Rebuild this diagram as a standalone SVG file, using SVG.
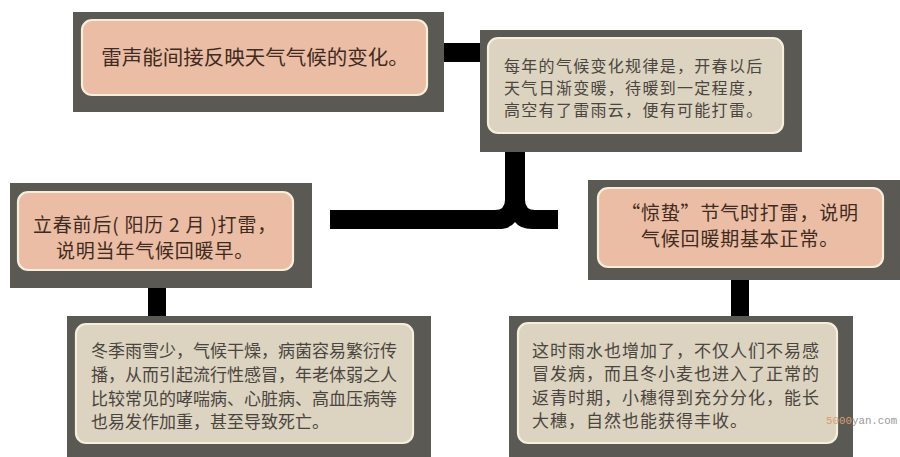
<svg xmlns="http://www.w3.org/2000/svg" width="900" height="457" viewBox="0 0 900 457">
<style>
.frame{fill:#5a5954}
.pink{fill:#eabda4;stroke:#f4eedb;stroke-width:2.2}
.beige{fill:#dcd3c0;stroke:#f4eedb;stroke-width:2.2}
.bar{fill:#000}
.tp{font-family:"Noto Sans CJK SC","Noto Sans",sans-serif;font-size:20.5px;fill:#3f2b22}
.tp2{font-family:"Noto Sans CJK SC","Noto Sans",sans-serif;font-size:19px;fill:#3f2b22;letter-spacing:0.8px}
.tb{font-family:"Noto Sans CJK SC","Noto Sans",sans-serif;font-size:16px;fill:#4a463f}
.wm{font-family:"Liberation Mono",monospace;font-size:10.8px}
</style>
<rect width="900" height="457" fill="#ffffff"/>
<g id="connectors">
<rect class="bar" x="440" y="43" width="50" height="19"/>
<path class="bar" d="M330 210 L495 210 Q505 210 505 200 L505 150 L525 150 L525 200 Q525 210 535 210 L558 210 L558 229 L532 229 Q520 229 515 222 Q510 229 498 229 L330 229 Z"/>
<rect class="bar" x="148" y="286" width="18" height="32"/>
<rect class="bar" x="731" y="278" width="18" height="40"/>
</g>
<g id="node-top">
<rect class="frame" x="73" y="12" width="371" height="100"/>
<rect class="pink" x="82" y="20" width="345" height="75" rx="10"/>
<text class="tp" x="255" y="65" text-anchor="middle">雷声能间接反映天气气候的变化。</text>
</g>
<g id="node-rule">
<rect class="frame" x="480" y="30" width="322" height="122"/>
<rect class="beige" x="488" y="38" width="295" height="95" rx="10"/>
<text class="tb" style="letter-spacing:1.3px" x="504" y="72">每年的气候变化规律是，开春以后</text>
<text class="tb" style="letter-spacing:1.3px" x="504" y="94">天气日渐变暖，待暖到一定程度，</text>
<text class="tb" style="letter-spacing:1.3px" x="504" y="116">高空有了雷雨云，便有可能打雷。</text>
</g>
<g id="node-lichun">
<rect class="frame" x="10" y="183" width="302" height="105"/>
<rect class="pink" x="18" y="192" width="275" height="78" rx="10"/>
<text class="tp2" x="155" y="232" text-anchor="middle">立春前后( 阳历 2 月 )打雷，</text>
<text class="tp2" x="155" y="258" text-anchor="middle">说明当年气候回暖早。</text>
</g>
<g id="node-jingzhe">
<rect class="frame" x="588" y="180" width="312" height="100"/>
<rect class="pink" x="598" y="188" width="285" height="79" rx="10"/>
<text class="tp2" x="740" y="220" text-anchor="middle">“惊蛰”节气时打雷，说明</text>
<text class="tp2" x="740" y="246" text-anchor="middle">气候回暖期基本正常。</text>
</g>
<g id="node-winter">
<rect class="frame" x="67" y="316" width="364" height="141"/>
<rect class="beige" x="76" y="324" width="337" height="119" rx="10"/>
<text class="tb" style="font-size:17px" x="91" y="356.5">冬季雨雪少，气候干燥，病菌容易繁衍传</text>
<text class="tb" style="font-size:17px" x="91" y="380.5">播，从而引起流行性感冒，年老体弱之人</text>
<text class="tb" style="font-size:17px" x="91" y="404.5">比较常见的哮喘病、心脏病、高血压病等</text>
<text class="tb" style="font-size:17px" x="91" y="427.5">也易发作加重，甚至导致死亡。</text>
</g>
<g id="node-harvest">
<rect class="frame" x="509" y="316" width="344" height="141"/>
<rect class="beige" x="518" y="323" width="319" height="120" rx="10"/>
<text class="tb" style="font-size:17px;letter-spacing:1px" x="532" y="356.5">这时雨水也增加了，不仅人们不易感</text>
<text class="tb" style="font-size:17px;letter-spacing:1px" x="532" y="379.5">冒发病，而且冬小麦也进入了正常的</text>
<text class="tb" style="font-size:17px;letter-spacing:1px" x="532" y="403.5">返青时期，小穗得到充分分化，能长</text>
<text class="tb" style="font-size:17px;letter-spacing:1px" x="532" y="426.5">大穗，自然也能获得丰收。</text>
</g>
<text class="wm" x="826" y="424"><tspan fill="#d6a06e">5000</tspan><tspan fill="#9a9a9a">yan.com</tspan></text>
</svg>
